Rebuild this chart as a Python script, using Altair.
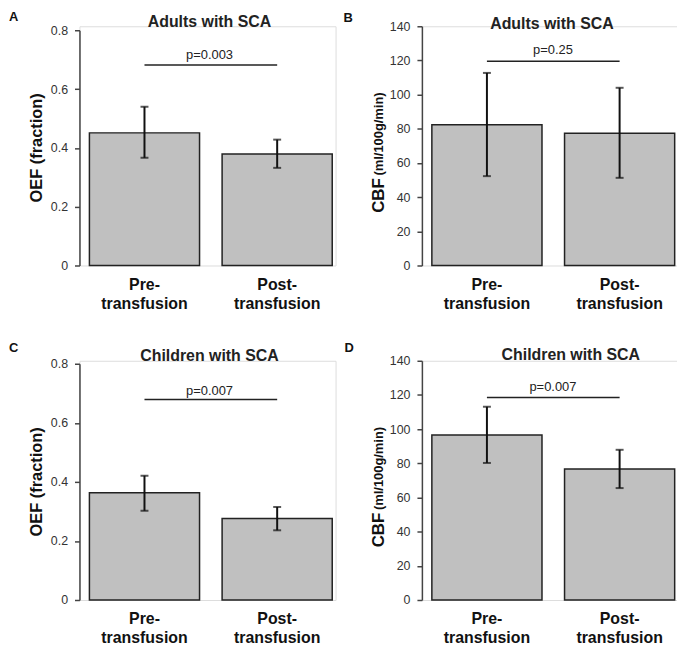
import altair as alt
import pandas as pd

groups = ["Pre-transfusion", "Post-transfusion"]

oef_adults_mean = [0.451, 0.379]
oef_adults_low = [0.366, 0.332]
oef_adults_high = [0.540, 0.428]

cbf_adults_mean = [82.3, 77.4]
cbf_adults_low = [52.3, 51.3]
cbf_adults_high = [112.7, 104.0]

oef_children_mean = [0.363, 0.276]
oef_children_low = [0.302, 0.236]
oef_children_high = [0.421, 0.315]

cbf_children_mean = [96.6, 76.7]
cbf_children_low = [80.2, 65.5]
cbf_children_high = [113.1, 87.9]

panel_letters = ["A", "B", "C", "D"]
panel_titles = ["Adults with SCA", "Adults with SCA", "Children with SCA", "Children with SCA"]
p_labels = ["p=0.003", "p=0.25", "p=0.007", "p=0.007"]
p_levels = [0.682, 119.5, 0.679, 118.5]
oef_ticks = [0, 0.2, 0.4, 0.6, 0.8]
cbf_ticks = [0, 20, 40, 60, 80, 100, 120, 140]

FONT = "Liberation Sans"
W = 258
H = 241


def panel(letter, title, means, lows, highs, p_label, p_level, ticks, kind,
          top_inset, letter_xy, title_xy, p_x, p_dy):
    df = pd.DataFrame({"group": groups, "mean": means, "low": lows, "high": highs})
    xscale = alt.Scale(domain=groups, paddingInner=0.17, paddingOuter=0.05, align=0.75)
    yscale = alt.Scale(domain=[0, ticks[-1]], nice=False, range=[H, top_inset])
    if kind == "oef":
        lab = "datum.value == 0 ? '0' : format(datum.value, '.1f')"
    else:
        lab = "format(datum.value, 'd')"
    yaxis = alt.Axis(values=ticks, tickCount=len(ticks), title=None, grid=False,
                     domainColor="#444", domainWidth=1.5, tickColor="#444", tickWidth=1.5,
                     tickSize=5, labelPadding=7, labelFontSize=12.5, labelColor="#333",
                     labelFont=FONT, labelExpr=lab, labelOverlap=False)
    x = alt.X("group:N", sort=groups, scale=xscale,
              axis=alt.Axis(title=None, labelAngle=0, ticks=False, domain=False,
                            labelExpr="datum.value == 'Pre-transfusion' ? ['Pre-', 'transfusion'] : ['Post-', 'transfusion']",
                            labelFontSize=16, labelFontWeight="bold", labelLineHeight=19,
                            labelPadding=11, labelColor="#111", labelFont=FONT))
    base = alt.Chart(df)
    bars = base.mark_bar(color="#c0c0c0", stroke="#222", strokeWidth=1.5).encode(
        x=x, y=alt.Y("mean:Q", scale=yscale, axis=yaxis))
    xe = alt.X("group:N", sort=groups, scale=xscale)
    err = base.mark_rule(color="#111", strokeWidth=2).encode(
        x=xe, y=alt.Y("low:Q", scale=yscale, axis=yaxis), y2="high:Q")
    cap_hi = base.mark_tick(color="#111", thickness=2, size=8).encode(
        x=xe, y=alt.Y("high:Q", scale=yscale, axis=yaxis))
    cap_lo = base.mark_tick(color="#111", thickness=2, size=8).encode(
        x=xe, y=alt.Y("low:Q", scale=yscale, axis=yaxis))

    pdf = pd.DataFrame({"x1": [groups[0]], "x2": [groups[1]], "lvl": [p_level], "lab": [p_label]})
    pline = alt.Chart(pdf).mark_rule(color="#222", strokeWidth=1.5).encode(
        x=alt.X("x1:N", sort=groups, scale=xscale), x2="x2:N",
        y=alt.Y("lvl:Q", scale=yscale, axis=yaxis))
    ptext = alt.Chart(pdf).mark_text(fontSize=13, color="#222", font=FONT,
                                      baseline="alphabetic", dy=p_dy).encode(
        x=alt.value(p_x), y=alt.Y("lvl:Q", scale=yscale, axis=yaxis), text="lab:N")

    tdf = pd.DataFrame({"letter": [letter], "title": [title]})
    let = alt.Chart(tdf).mark_text(fontSize=13, fontWeight="bold", font=FONT, color="#111",
                                   align="left", baseline="top").encode(
        x=alt.value(letter_xy[0]), y=alt.value(letter_xy[1]), text="letter:N")
    ttl = alt.Chart(tdf).mark_text(fontSize=16, fontWeight="bold", font=FONT, color="#222",
                                   align="center", baseline="top").encode(
        x=alt.value(title_xy[0]), y=alt.value(title_xy[1]), text="title:N")

    layers = [bars, err, cap_hi, cap_lo, pline, ptext, let, ttl]
    mid = (H + top_inset) / 2
    if kind == "oef":
        adf = pd.DataFrame({"t": ["OEF (fraction)"]})
        layers.append(alt.Chart(adf).mark_text(fontSize=16.5, fontWeight="bold", font=FONT,
                                               color="#111", angle=270, align="center",
                                               baseline="middle").encode(
            x=alt.value(-43), y=alt.value(mid), text="t:N"))
    else:
        adf1 = pd.DataFrame({"t": ["CBF"]})
        adf2 = pd.DataFrame({"t": ["(ml/100g/min)"]})
        layers.append(alt.Chart(adf1).mark_text(fontSize=17, fontWeight="bold", font=FONT,
                                                color="#111", angle=270, align="center",
                                                baseline="middle").encode(
            x=alt.value(-43), y=alt.value(mid + 50), text="t:N"))
        layers.append(alt.Chart(adf2).mark_text(fontSize=13, fontWeight="bold", font=FONT,
                                                color="#111", angle=270, align="center",
                                                baseline="middle").encode(
            x=alt.value(-43), y=alt.value(mid - 12), text="t:N"))
    return alt.layer(*layers).properties(width=W, height=H)


pA = panel(panel_letters[0], panel_titles[0], oef_adults_mean, oef_adults_low, oef_adults_high,
           p_labels[0], p_levels[0], oef_ticks, "oef", 4, (-71, -15), (131, -12), 131, -6)
pB = panel(panel_letters[1], panel_titles[1], cbf_adults_mean, cbf_adults_low, cbf_adults_high,
           p_labels[1], p_levels[1], cbf_ticks, "cbf", 0, (-79, -14), (131, -10.5), 132, -7)
pC = panel(panel_letters[2], panel_titles[2], oef_children_mean, oef_children_low, oef_children_high,
           p_labels[2], p_levels[2], oef_ticks, "oef", 3, (-71, -19), (131, -12.5), 131, -5)
pD = panel(panel_letters[3], panel_titles[3], cbf_children_mean, cbf_children_low, cbf_children_high,
           p_labels[3], p_levels[3], cbf_ticks, "cbf", 0, (-78, -19), (150, -14), 132, -7)

chart = alt.concat(
    pA, pB, pC, pD, columns=2,
    spacing=alt.RowColnumber(row=96, column=87), bounds="flush",
).properties(
    autosize=alt.AutoSizeParams(type="none"),
    padding={"left": 72, "top": 16, "right": 602, "bottom": 630},
    background="white",
).configure_view(stroke=None).configure(font=FONT)

chart.save("out.html", embed_options={"renderer": "svg", "actions": False})
